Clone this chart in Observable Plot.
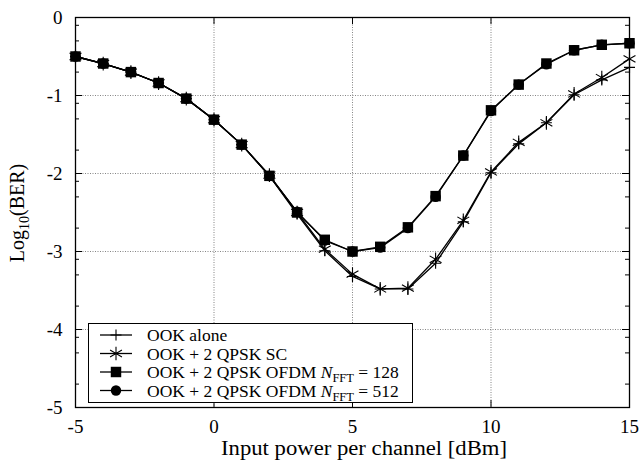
<!DOCTYPE html>
<html><head><meta charset="utf-8">
<script src="https://cdn.jsdelivr.net/npm/d3@7"></script>
<script src="https://cdn.jsdelivr.net/npm/@observablehq/plot@0.6"></script>
<style>
body{margin:0;background:#fff;}
#wrap{position:relative;width:644px;height:462px;font-family:"Liberation Serif",serif;}
#wrap svg, #wrap svg text{font-family:"Liberation Serif",serif !important;}
#legend{position:absolute;left:88px;top:323px;overflow:visible;}
</style></head><body><div id="wrap"></div>
<script>
// ---- data ----
const power = [-5,-4,-3,-2,-1,0,1,2,3,4,5,6,7,8,9,10,11,12,13,14,15];
const ookAlone = [-0.50,-0.59,-0.70,-0.84,-1.04,-1.31,-1.63,-2.03,-2.52,-2.99,-3.32,-3.48,-3.48,-3.15,-2.62,-1.99,-1.62,-1.35,-0.99,-0.80,-0.64];
const ookSC    = [-0.50,-0.59,-0.70,-0.84,-1.04,-1.31,-1.63,-2.02,-2.50,-2.97,-3.29,-3.48,-3.47,-3.10,-2.60,-1.98,-1.60,-1.35,-0.98,-0.77,-0.53];
const ofdm128  = [-0.50,-0.59,-0.70,-0.84,-1.04,-1.31,-1.63,-2.03,-2.50,-2.85,-3.00,-2.94,-2.69,-2.29,-1.77,-1.19,-0.86,-0.59,-0.42,-0.35,-0.33];
const ofdm512  = [-0.50,-0.59,-0.70,-0.84,-1.04,-1.31,-1.63,-2.03,-2.49,-2.86,-3.00,-2.95,-2.70,-2.30,-1.77,-1.20,-0.86,-0.60,-0.42,-0.35,-0.33];
const seriesNames = ["OOK alone","OOK + 2 QPSK SC","OOK + 2 QPSK OFDM N_FFT = 128","OOK + 2 QPSK OFDM N_FFT = 512"];
const xTicks = [-5,0,5,10,15];
const yTicks = [0,-1,-2,-3,-4,-5];
const xGrid = [0,5,10];
const yGrid = [-1,-2,-3,-4];
const yMinor = [-0.1,-0.3,-0.7,-1.1,-1.3,-1.7,-2.1,-2.3,-2.7,-3.1,-3.3,-3.7,-4.1,-4.3,-4.7];
const xLabel = "Input power per channel [dBm]";

// ---- layout ----
const W = 644, H = 462, mL = 75, mR = 15, mT = 17, mB = 55;
const pw = W - mL - mR, ph = H - mT - mB;
const FONT = "Liberation Serif";

const plusSymbol = {draw(ctx, size){const r = Math.sqrt(size/Math.PI); ctx.moveTo(-r,0); ctx.lineTo(r,0); ctx.moveTo(0,-r); ctx.lineTo(0,r);}};

const rows = (ys) => power.map((x,i) => ({x, y: ys[i]}));
const sAlone = rows(ookAlone), sSC = rows(ookSC), s128 = rows(ofdm128), s512 = rows(ofdm512);

const lineOpts = {x:"x", y:"y", stroke:"black", strokeWidth:1.3};
const chart = Plot.plot({
  width: W, height: H, marginLeft: mL, marginRight: mR, marginTop: mT, marginBottom: mB,
  x: {domain: [-5, 15]},
  y: {domain: [-5, 0]},
  style: {fontFamily: FONT, fontSize: "19px", color: "black", background: "white"},
  marks: [
    Plot.ruleX(xGrid, {stroke: "#777", strokeDasharray: "1,1.5", strokeWidth: 0.9}),
    Plot.ruleY(yGrid, {stroke: "#777", strokeDasharray: "1,1.5", strokeWidth: 0.9}),
    Plot.ruleY(yMinor, {stroke: "black", insetRight: pw - 4}),
    Plot.ruleY(yMinor, {stroke: "black", insetLeft: pw - 4}),
    Plot.ruleY(yTicks, {stroke: "black", insetRight: pw - 7}),
    Plot.ruleY(yTicks, {stroke: "black", insetLeft: pw - 7}),
    Plot.ruleX(xTicks, {stroke: "black", insetTop: ph - 7}),
    Plot.ruleX(xTicks, {stroke: "black", insetBottom: ph - 7}),
    Plot.frame({stroke: "black", strokeWidth: 1.3}),
    Plot.axisX({ticks: xTicks, tickSize: 0, tickPadding: 12, tickFormat: d => String(d), fontSize: 19, label: null}),
    Plot.axisY({ticks: yTicks, tickSize: 0, tickPadding: 13, tickFormat: d => String(d), fontSize: 19, label: null}),
    Plot.line(sAlone, lineOpts),
    Plot.line(sSC, lineOpts),
    Plot.line(s512, lineOpts),
    Plot.line(s128, lineOpts),
    Plot.dot(sAlone, {x:"x", y:"y", symbol: plusSymbol, r: 5.5, fill: "none", stroke: "black", strokeWidth: 1.1}),
    Plot.dot(sSC, {x:"x", y:"y", symbol: "asterisk", r: 6.5, fill: "none", stroke: "black", strokeWidth: 1.1}),
    Plot.dot(s512, {x:"x", y:"y", symbol: "circle", r: 5.2, fill: "black", stroke: "none"}),
    Plot.dot(s128, {x:"x", y:"y", symbol: "square", r: 5.9, fill: "black", stroke: "none"})
  ]
});
document.getElementById("wrap").appendChild(chart);

const svg = d3.select(chart);
// x-axis label
svg.append("text")
  .attr("x", mL + pw / 2 + 12).attr("y", 455)
  .attr("text-anchor", "middle")
  .attr("font-family", FONT).attr("font-size", 20).attr("fill", "black")
  .attr("textLength", 286).attr("lengthAdjust", "spacingAndGlyphs")
  .text(xLabel);
// y-axis label with subscript
const yl = svg.append("text")
  .attr("transform", "translate(24,213) rotate(-90)")
  .attr("text-anchor", "middle")
  .attr("font-family", FONT).attr("font-size", 20).attr("fill", "black");
yl.append("tspan").text("Log");
yl.append("tspan").attr("font-size", 14).attr("dy", 5).text("10");
yl.append("tspan").attr("dy", -5).text("(BER)");

// legend
const LW = 325, LH = 80;
const leg = d3.select("#wrap").append("svg").attr("id", "legend").attr("width", LW).attr("height", LH);
leg.append("rect").attr("x", 0.5).attr("y", 0.5).attr("width", LW - 1).attr("height", LH - 1)
  .attr("fill", "white").attr("stroke", "black").attr("stroke-width", 1);
const symDefs = [
  {sym: plusSymbol, r: 5.5, fill: "none", stroke: "black"},
  {sym: d3.symbolAsterisk, r: 6.5, fill: "none", stroke: "black"},
  {sym: d3.symbolSquare, r: 5.9, fill: "black", stroke: "none"},
  {sym: d3.symbolCircle, r: 5.2, fill: "black", stroke: "none"}
];
seriesNames.forEach((name, i) => {
  const cy = 12 + i * 18.5;
  const g = leg.append("g").attr("transform", `translate(0,${cy})`);
  g.append("line").attr("x1", 12).attr("x2", 44).attr("y1", 0).attr("y2", 0).attr("stroke", "black").attr("stroke-width", 1.3);
  const s = symDefs[i];
  g.append("path").attr("transform", "translate(28,0)")
    .attr("d", d3.symbol(s.sym, Math.PI * s.r * s.r)())
    .attr("fill", s.fill).attr("stroke", s.stroke).attr("stroke-width", 1.1);
  const t = g.append("text").attr("x", 59).attr("y", 6).attr("font-family", FONT).attr("font-size", 17.5).attr("fill", "black");
  const m = name.match(/^(.*) N_FFT = (\d+)$/);
  if (m) {
    t.append("tspan").text(m[1] + " ");
    t.append("tspan").attr("font-style", "italic").text("N");
    t.append("tspan").attr("font-size", 12.5).attr("dy", 4).text("FFT");
    t.append("tspan").attr("dy", -4).text(" = " + m[2]);
  } else {
    t.text(name);
  }
});
</script>
</body></html>
